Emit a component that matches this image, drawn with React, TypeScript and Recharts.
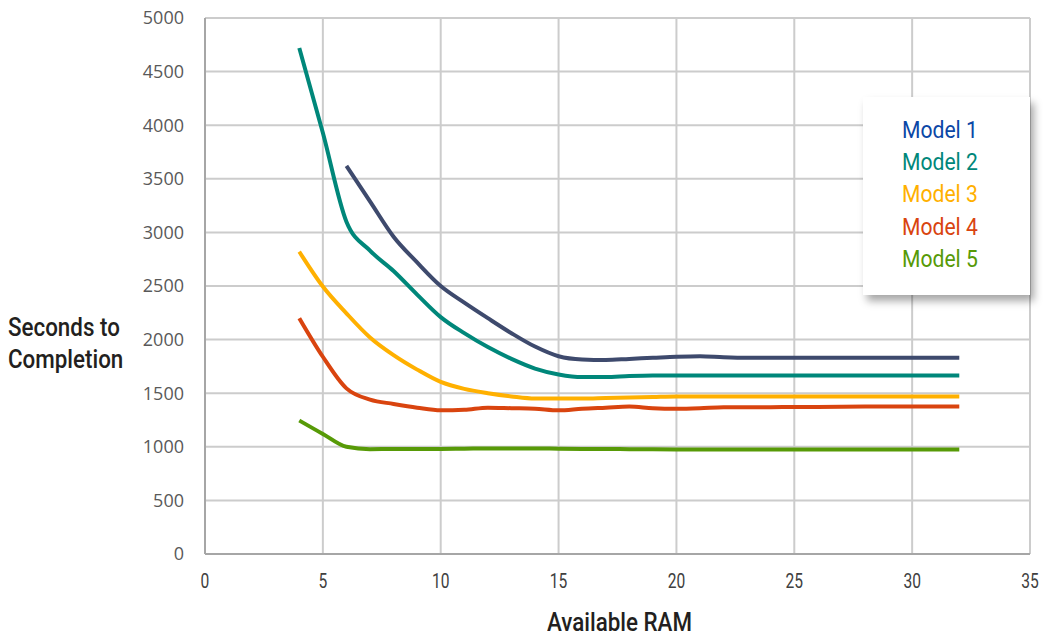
import { CartesianGrid, Legend, Line, LineChart, XAxis, YAxis } from "recharts";

const ram = [4, 5, 6, 7, 8, 9, 10, 11, 12, 13, 14, 15, 16, 17, 18, 19, 20, 21, 22, 23, 24, 25, 26, 27, 28, 29, 30, 31, 32];

const model1 = [null, null, 3620, 3290, 2960, 2720, 2500, 2345, 2200, 2060, 1935, 1845, 1815, 1810, 1820, 1830, 1840, 1845, 1835, 1830, 1830, 1830, 1830, 1830, 1830, 1830, 1830, 1830, 1830];
const model2 = [4720, 3930, 3100, 2830, 2640, 2420, 2210, 2060, 1930, 1820, 1730, 1675, 1650, 1650, 1660, 1665, 1665, 1665, 1665, 1665, 1665, 1665, 1665, 1665, 1665, 1665, 1665, 1665, 1665];
const model3 = [2820, 2495, 2245, 2020, 1855, 1720, 1605, 1540, 1500, 1470, 1450, 1450, 1450, 1455, 1460, 1465, 1470, 1470, 1470, 1470, 1470, 1470, 1470, 1470, 1470, 1470, 1470, 1470, 1470];
const model4 = [2200, 1840, 1545, 1440, 1400, 1365, 1340, 1345, 1365, 1360, 1355, 1340, 1355, 1365, 1375, 1360, 1355, 1360, 1370, 1370, 1370, 1372, 1372, 1374, 1375, 1375, 1375, 1375, 1375];
const model5 = [1245, 1120, 1000, 978, 980, 980, 980, 982, 985, 985, 985, 982, 980, 980, 978, 976, 975, 975, 975, 975, 975, 975, 975, 975, 975, 975, 975, 975, 975];

const xTicks = [0, 5, 10, 15, 20, 25, 30, 35];
const yTicks = [0, 500, 1000, 1500, 2000, 2500, 3000, 3500, 4000, 4500, 5000];

const series = [
  { key: "m1", name: "Model 1", line: "#3e4a6d", text: "#0b47a6" },
  { key: "m2", name: "Model 2", line: "#00877a", text: "#00877a" },
  { key: "m3", name: "Model 3", line: "#ffb000", text: "#ffb000" },
  { key: "m4", name: "Model 4", line: "#d9440f", text: "#d9440f" },
  { key: "m5", name: "Model 5", line: "#579a07", text: "#579a07" },
];

const data = ram.map((x, i) => ({ x, m1: model1[i], m2: model2[i], m3: model3[i], m4: model4[i], m5: model5[i] }));

const narrow = "Roboto, 'Liberation Sans', sans-serif";

// condensed look: no narrow face installed, so squeeze horizontally
const squeeze = (s: number) => ({ transform: `scaleX(${s})`, transformOrigin: "left top", whiteSpace: "nowrap" as const });

function XTick({ x, y, payload }: any) {
  return (
    <text
      transform={`translate(${x},${y}) scale(0.78,1)`}
      textAnchor="middle"
      dy="0.71em"
      fill="#404040"
      fontSize={20}
      fontFamily={narrow}
    >
      {payload.value}
    </text>
  );
}

function LegendBox() {
  return (
    <div
      style={{
        width: 167,
        height: 198,
        background: "#fff",
        boxShadow: "4px 6px 8px rgba(0,0,0,0.35)",
        boxSizing: "border-box",
        paddingTop: 17,
        paddingLeft: 39,
      }}
    >
      {series.map((s) => (
        <div key={s.key} style={{ color: s.text, fontFamily: narrow, fontSize: 24, lineHeight: "32.2px", ...squeeze(0.88) }}>
          {s.name}
        </div>
      ))}
    </div>
  );
}

export default function App() {
  return (
    <div style={{ position: "absolute", left: 0, top: 0, width: 1043, height: 639, background: "#fff" }}>
      <LineChart width={1043} height={639} data={data} margin={{ top: 18, right: 13, left: 0, bottom: 0 }}>
        <CartesianGrid stroke="#cccccc" strokeWidth={2} />
        <XAxis
          dataKey="x"
          type="number"
          domain={[0, 35]}
          ticks={xTicks}
          height={85}
          tickLine={false}
          tickMargin={14}
          axisLine={{ stroke: "#a6a6a6", strokeWidth: 2 }}
          tick={<XTick />}
        />
        <YAxis
          type="number"
          domain={[0, 5000]}
          ticks={yTicks}
          width={205}
          tickLine={false}
          tickMargin={15}
          axisLine={{ stroke: "#a6a6a6", strokeWidth: 2 }}
          tick={{ fill: "#595959", fontSize: 18, fontFamily: "'Open Sans', sans-serif" }}
        />
        <Legend
          layout="vertical"
          align="center"
          verticalAlign="middle"
          content={() => <LegendBox />}
          wrapperStyle={{ left: 863, top: 97, width: 167, height: 198 }}
        />
        {series.map((s) => (
          <Line
            key={s.key}
            dataKey={s.key}
            name={s.name}
            type="monotone"
            stroke={s.line}
            strokeWidth={4}
            dot={false}
            isAnimationActive={false}
          />
        ))}
      </LineChart>
      <div
        style={{
          position: "absolute",
          left: 8,
          top: 311,
          fontFamily: narrow,
          fontWeight: 500,
          fontSize: 26,
          lineHeight: "32px",
          color: "#231f20",
          ...squeeze(0.86),
        }}
      >
        Seconds to
        <br />
        Completion
      </div>
      <div
        style={{
          position: "absolute",
          left: 547,
          top: 607,
          fontFamily: narrow,
          fontWeight: 500,
          fontSize: 26,
          color: "#231f20",
          ...squeeze(0.86),
        }}
      >
        Available RAM
      </div>
    </div>
  );
}
